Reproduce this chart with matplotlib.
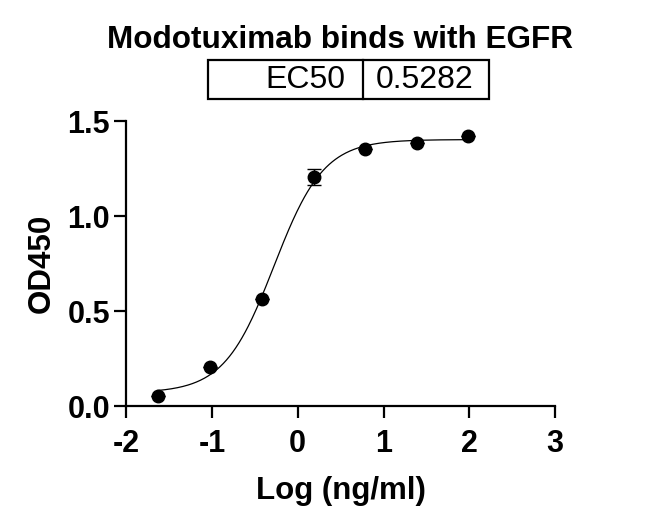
import numpy as np
import matplotlib
matplotlib.use("Agg")
import matplotlib.pyplot as plt
from matplotlib.patches import Rectangle

plt.rcParams['font.family'] = ['Liberation Sans', 'DejaVu Sans']
plt.rcParams['axes.unicode_minus'] = False

# data
log_conc = [-1.63, -1.02, -0.415, 0.19, 0.79, 1.39, 1.99]
od450 = [0.053, 0.205, 0.563, 1.204, 1.351, 1.383, 1.420]
od_err = [0.0, 0.0, 0.0, 0.043, 0.0, 0.0, 0.0]
ec50 = 0.5282

x = np.array(log_conc)
y = np.array(od450)
log_ec50 = np.log10(ec50)

# 4PL fit with EC50 fixed: bottom/top are linear for a given hill slope
best = None
for h in np.linspace(0.5, 3.0, 501):
    s = 1.0 / (1.0 + 10 ** ((log_ec50 - x) * h))
    A = np.column_stack([1 - s, s])
    coef, res, _, _ = np.linalg.lstsq(A, y, rcond=None)
    err = np.sum((A @ coef - y) ** 2)
    if best is None or err < best[0]:
        best = (err, h, coef[0], coef[1])
_, hill, bottom, top = best

xc = np.linspace(x.min(), x.max(), 300)
yc = bottom + (top - bottom) / (1.0 + 10 ** ((log_ec50 - xc) * hill))

fig = plt.figure(figsize=(6.5, 5.24), dpi=100)
ax = fig.add_axes([0.194, 0.225, 0.66, 0.544])

ax.plot(xc, yc, color="black", lw=0.9)
ax.errorbar(x, y, yerr=od_err, fmt="o", color="black", ms=9,
            capsize=5, elinewidth=1, capthick=1, clip_on=False, zorder=3)

ax.set_xlim(-2, 3)
ax.set_ylim(0, 1.5)
ax.set_xticks([-2, -1, 0, 1, 2, 3])
ax.set_yticks([0.0, 0.5, 1.0, 1.5])
ax.set_yticklabels(["0.0", "0.5", "1.0", "1.5"])
for side in ["top", "right"]:
    ax.spines[side].set_visible(False)
for side in ["left", "bottom"]:
    ax.spines[side].set_linewidth(1.6)
ax.tick_params(direction="out", length=8.5, width=1.6, labelsize=22, pad=3)
ax.tick_params(axis="x", pad=8)
for lab in ax.get_xticklabels() + ax.get_yticklabels():
    lab.set_fontweight("bold")

ax.set_xlabel("Log (ng/ml)", fontsize=22.5, fontweight="bold", labelpad=12)
ax.set_ylabel("OD450", fontsize=22.5, fontweight="bold", labelpad=8)

fig.text(0.523, 0.908, "Modotuximab binds with EGFR", ha="center",
         va="baseline", fontsize=22.7, fontweight="bold")

# EC50 box
fig.patches.append(Rectangle((0.32, 0.811), 0.432, 0.0745, fill=False,
                             lw=1.6, ec="black", transform=fig.transFigure))
fig.lines.append(plt.Line2D([0.558, 0.558], [0.811, 0.8855], color="black",
                            lw=1.6, transform=fig.transFigure))
fig.text(0.531, 0.847, "EC50", ha="right", va="center", fontsize=23)
fig.text(0.653, 0.847, f"{ec50:.4f}", ha="center", va="center", fontsize=23)

fig.savefig("out.png", dpi=100)
